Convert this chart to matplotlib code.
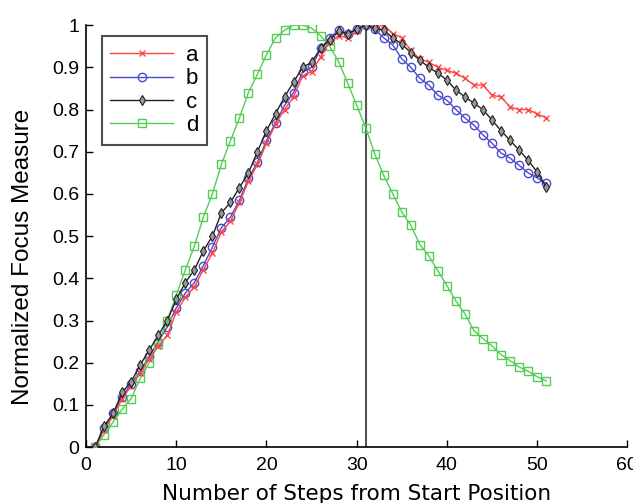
import matplotlib
matplotlib.use("Agg")
import matplotlib.pyplot as plt
import numpy as np

steps = list(range(1, 52))
series_a = [0, 0.04, 0.075, 0.115, 0.145, 0.175, 0.21, 0.24, 0.265, 0.32,
            0.355, 0.38, 0.42, 0.46, 0.51, 0.535, 0.58, 0.63, 0.67, 0.72,
            0.765, 0.80, 0.83, 0.88, 0.89, 0.925, 0.96, 0.975, 0.97, 0.985,
            1.0, 0.995, 1.0, 0.98, 0.97, 0.94, 0.92, 0.912, 0.90, 0.893,
            0.886, 0.874, 0.858, 0.858, 0.834, 0.83, 0.806, 0.80, 0.80, 0.79, 0.78]
series_b = [0, 0.045, 0.08, 0.12, 0.15, 0.18, 0.215, 0.25, 0.285, 0.33,
            0.365, 0.39, 0.43, 0.474, 0.52, 0.545, 0.585, 0.637, 0.675, 0.727,
            0.768, 0.81, 0.84, 0.889, 0.90, 0.945, 0.97, 0.988, 0.98, 0.99,
            1.0, 0.99, 0.97, 0.953, 0.92, 0.90, 0.874, 0.858, 0.834, 0.822,
            0.80, 0.78, 0.763, 0.74, 0.72, 0.697, 0.685, 0.668, 0.65, 0.638, 0.625]
series_c = [0, 0.05, 0.08, 0.13, 0.155, 0.195, 0.23, 0.265, 0.30, 0.35,
            0.39, 0.42, 0.465, 0.50, 0.555, 0.58, 0.615, 0.65, 0.70, 0.75,
            0.79, 0.83, 0.865, 0.90, 0.912, 0.945, 0.965, 0.985, 0.98, 0.99,
            1.0, 0.993, 0.988, 0.97, 0.955, 0.935, 0.917, 0.90, 0.886, 0.87,
            0.846, 0.83, 0.815, 0.80, 0.775, 0.75, 0.727, 0.704, 0.68, 0.652, 0.616]
series_d = [0, 0.03, 0.06, 0.09, 0.115, 0.163, 0.20, 0.245, 0.30, 0.36,
            0.42, 0.476, 0.545, 0.60, 0.67, 0.726, 0.78, 0.84, 0.884, 0.93,
            0.97, 0.988, 1.0, 1.0, 0.993, 0.975, 0.95, 0.913, 0.863, 0.81,
            0.757, 0.695, 0.644, 0.60, 0.557, 0.526, 0.48, 0.453, 0.418, 0.383,
            0.346, 0.316, 0.276, 0.257, 0.24, 0.219, 0.205, 0.19, 0.18, 0.167, 0.157]
labels = ["a", "b", "c", "d"]
peak_step = 31
xticks = [0, 10, 20, 30, 40, 50, 60]
yticks = [0, 0.1, 0.2, 0.3, 0.4, 0.5, 0.6, 0.7, 0.8, 0.9, 1.0]
ytick_labels = ["0", "0.1", "0.2", "0.3", "0.4", "0.5", "0.6", "0.7", "0.8", "0.9", "1"]

tick_family = ["Liberation Sans Narrow", "Liberation Sans", "DejaVu Sans"]
sans = ["Liberation Sans", "DejaVu Sans"]

fig = plt.figure(figsize=(6.33, 5.03), dpi=100)
ax = fig.add_axes([0.136, 0.111, 0.855, 0.839])

ax.axvline(peak_step, color="#555555", lw=1.5, zorder=1)
ax.plot(steps, series_a, color="#ff4545", marker="x", ms=5, lw=1, mew=1, label=labels[0], zorder=3)
ax.plot(steps, series_b, color="#4a4ad0", marker="o", ms=6, lw=1, mfc="none", mew=1, label=labels[1], zorder=2)
ax.plot(steps, series_c, color="#222222", marker="d", ms=5.5, lw=1, mfc="#999999", mew=0.8, label=labels[2], zorder=4)
ax.plot(steps, series_d, color="#55cc55", marker="s", ms=6, lw=1, mfc="none", mew=1, label=labels[3], zorder=2)

ax.set_xlim(0, 60)
ax.set_ylim(0, 1)
ax.set_xticks(xticks)
ax.set_yticks(yticks)
ax.set_yticklabels(ytick_labels)
ax.spines["top"].set_visible(False)
ax.spines["right"].set_visible(False)
for s in ("left", "bottom"):
    ax.spines[s].set_linewidth(1.2)
ax.tick_params(direction="in", length=5, width=1, labelsize=14)
ax.tick_params(axis="x", pad=7)
ax.tick_params(axis="y", pad=5)
for lbl in ax.get_xticklabels() + ax.get_yticklabels():
    lbl.set_family(tick_family)
ax.set_xlabel("Number of Steps from Start Position", fontsize=15.5, labelpad=7,
              family=["DejaVu Sans"])
ax.set_ylabel("Normalized Focus Measure", fontsize=17.5, family=sans)
ax.yaxis.set_label_coords(-0.097, 0.45)

leg = ax.legend(loc="upper left", bbox_to_anchor=(0.008, 1.0),
                prop={"family": sans, "size": 16},
                frameon=True, fancybox=False, handlelength=2.8,
                borderpad=0.4, labelspacing=0.1, handletextpad=0.6)
leg.get_frame().set_edgecolor("#222222")
leg.get_frame().set_linewidth(1.5)

fig.savefig("out.png", dpi=100)
